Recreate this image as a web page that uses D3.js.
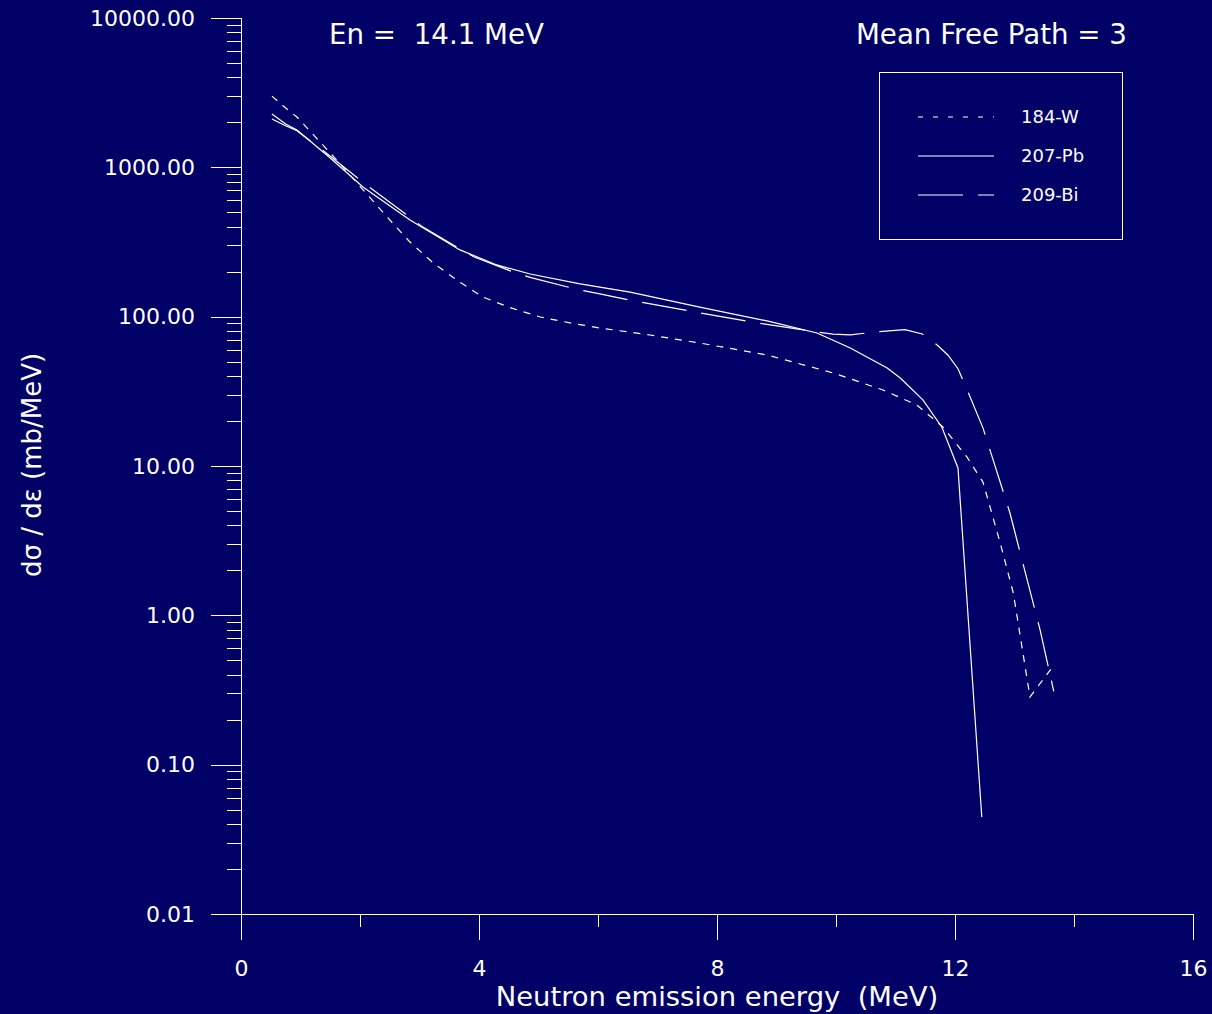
<!DOCTYPE html>
<html>
<head>
<meta charset="utf-8">
<script src="https://cdn.jsdelivr.net/npm/d3@7"></script>
<style>
  html, body { margin: 0; padding: 0; background: #000066; }
  svg { display: block; }
  text { font-family: "DejaVu Sans", Verdana, sans-serif; fill: #ffffff; }
</style>
</head>
<body>
<script>
// ---- Data ----
const seriesNames = ["184-W", "207-Pb", "209-Bi"];

const wEnergy = [0.52, 0.71, 0.94, 1.50, 2.13, 2.47, 2.84, 3.23, 3.65, 4.07, 4.55, 5.03, 5.53, 6.03, 6.87, 7.71, 8.84, 9.95, 10.79, 11.36, 11.80, 12.20, 12.47, 12.76, 12.98, 13.18, 13.26, 13.58, 13.66];
const wValue  = [3000, 2577, 2173, 1248, 653, 458, 316, 229, 173, 135, 114, 99.5, 90.8, 84, 75.4, 66.6, 55.4, 42, 32.3, 25.6, 18.2, 11.5, 7.8, 3.05, 1.41, 0.45, 0.284, 0.42, 0.46];

const pbEnergy = [0.52, 0.75, 0.94, 1.50, 2.05, 2.84, 3.68, 4.30, 4.86, 5.70, 6.54, 7.71, 8.84, 9.68, 10.24, 10.86, 11.08, 11.46, 11.78, 12.05, 12.45];
const pbValue  = [2275, 1950, 1778, 1156, 739, 444, 280, 222, 193, 166, 146, 116, 93.6, 77.8, 61.7, 45.3, 38.8, 27.7, 18.2, 9.7, 0.0446];

const biEnergy = [0.52, 0.75, 0.94, 1.39, 1.98, 2.20, 2.81, 3.03, 3.68, 3.92, 4.62, 4.89, 5.63, 6.03, 6.54, 7.66, 8.67, 9.68, 9.95, 10.24, 10.71, 11.16, 11.45, 11.70, 11.88, 12.05, 12.24, 12.47, 12.92, 13.43, 13.66];
const biValue  = [2108, 1900, 1760, 1285, 836, 716, 472, 405, 284, 251, 196, 182, 153, 142, 129, 107, 90.8, 79, 76.5, 75.6, 79.3, 81.9, 76.5, 64.6, 55.4, 44.8, 29.9, 18.0, 4.9, 0.80, 0.31];

const xMajorTicks = [0, 4, 8, 12, 16];
const xMinorTicks = [2, 6, 10, 14];
const yMajorTicks = [0.01, 0.1, 1, 10, 100, 1000, 10000];
const yTickLabels = ["0.01", "0.10", "1.00", "10.00", "100.00", "1000.00", "10000.00"];

// ---- Chart ----
const W = 1212, H = 1014;
const svg = d3.select("body").append("svg").attr("width", W).attr("height", H);
svg.append("rect").attr("width", W).attr("height", H).attr("fill", "#000066");

const x = d3.scaleLinear().domain([0, 16]).range([241, 1193]);
const y = d3.scaleLog().domain([0.01, 10000]).range([914, 18]);

const yMinorTicks = [];
for (let d = -2; d < 4; d++) for (let k = 2; k <= 9; k++) yMinorTicks.push(k * Math.pow(10, d));

// Y axis
const yMajor = svg.append("g").attr("transform", "translate(241,0)")
  .call(d3.axisLeft(y).tickValues(yMajorTicks).tickSize(30).tickPadding(16)
    .tickFormat((d, i) => yTickLabels[i]));
const yMinor = svg.append("g").attr("transform", "translate(241,0)")
  .call(d3.axisLeft(y).tickValues(yMinorTicks).tickSize(14).tickFormat(""));

// X axis
const xMajor = svg.append("g").attr("transform", "translate(0,914)")
  .call(d3.axisBottom(x).tickValues(xMajorTicks).tickSize(26).tickPadding(20).tickFormat(d3.format("d")));
const xMinor = svg.append("g").attr("transform", "translate(0,914)")
  .call(d3.axisBottom(x).tickValues(xMinorTicks).tickSize(13).tickFormat(""));

[yMajor, yMinor, xMajor, xMinor].forEach(g => {
  g.select(".domain").remove();
  g.selectAll(".tick line").attr("stroke", "#ffffff").attr("stroke-width", 1).attr("shape-rendering", "crispEdges");
  g.selectAll(".tick text").attr("fill", "#ffffff").attr("font-size", 22)
    .attr("font-family", "DejaVu Sans, Verdana, sans-serif");
});

// axis lines
svg.append("line").attr("x1", 241).attr("x2", 241).attr("y1", y(10000)).attr("y2", 940)
  .attr("stroke", "#fff").attr("shape-rendering", "crispEdges");
svg.append("line").attr("x1", 211).attr("x2", x(16)).attr("y1", 914).attr("y2", 914)
  .attr("stroke", "#fff").attr("shape-rendering", "crispEdges");

// Curves
const line = d3.line().x(d => x(d[0])).y(d => y(d[1]));
const series = [
  { e: wEnergy, v: wValue, dash: "7,7" },
  { e: pbEnergy, v: pbValue, dash: null },
  { e: biEnergy, v: biValue, dash: "45,15" }
];
series.forEach(s => {
  const pts = s.e.map((e, i) => [e, s.v[i]]);
  const p = svg.append("path").attr("d", line(pts)).attr("fill", "none")
    .attr("stroke", "#ffffff").attr("stroke-width", 1.2);
  if (s.dash) p.attr("stroke-dasharray", s.dash);
});

// Titles
svg.append("text").attr("x", 329).attr("y", 44).attr("font-size", 27.7)
  .style("white-space", "pre").text("En =  14.1 MeV");
svg.append("text").attr("x", 1127).attr("y", 44).attr("font-size", 27.7)
  .attr("text-anchor", "end").text("Mean Free Path = 3");

// Axis titles
svg.append("text").attr("x", 717).attr("y", 1006).attr("font-size", 27.4)
  .attr("text-anchor", "middle").style("white-space", "pre").text("Neutron emission energy  (MeV)");
svg.append("text").attr("transform", "translate(41,465) rotate(-90)").attr("font-size", 26)
  .attr("text-anchor", "middle").text("d\u03C3 / d\u03B5  (mb/MeV)");

// Legend
svg.append("rect").attr("x", 879.5).attr("y", 72.5).attr("width", 243).attr("height", 167)
  .attr("fill", "none").attr("stroke", "#ffffff").attr("stroke-width", 1);
const legendDash = ["5,10", null, "45,15"];
const legendY = [117, 156, 195];
seriesNames.forEach((n, i) => {
  const l = svg.append("line").attr("x1", 918).attr("x2", 994).attr("y1", legendY[i]).attr("y2", legendY[i])
    .attr("stroke", "#fff").attr("stroke-width", 1.2);
  if (legendDash[i]) l.attr("stroke-dasharray", legendDash[i]);
  svg.append("text").attr("x", 1021).attr("y", legendY[i]).attr("dy", "0.36em")
    .attr("font-size", 18).text(n);
});
</script>
</body>
</html>
